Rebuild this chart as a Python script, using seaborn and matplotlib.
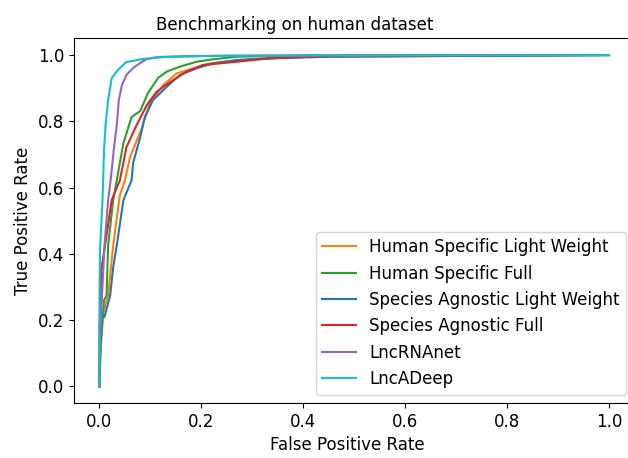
import pandas as pd
import seaborn as sns
from matplotlib import pyplot as plt

# ROC points (fpr, tpr)
hs_light_fpr = [0.0, 0.001, 0.007, 0.017, 0.027, 0.040, 0.050, 0.060, 0.083, 0.099, 0.125,
                0.152, 0.184, 0.217, 0.276, 0.374, 1.0]
hs_light_tpr = [0.0, 0.079, 0.220, 0.275, 0.426, 0.577, 0.622, 0.692, 0.779, 0.855, 0.909,
                0.945, 0.960, 0.975, 0.985, 0.994, 1.0]

hs_full_fpr = [0.0, 0.003, 0.009, 0.014, 0.017, 0.027, 0.034, 0.047, 0.063, 0.080, 0.095,
               0.115, 0.132, 0.158, 0.191, 0.223, 0.270, 0.394, 1.0]
hs_full_tpr = [0.0, 0.139, 0.260, 0.275, 0.426, 0.562, 0.622, 0.734, 0.813, 0.831, 0.885,
               0.931, 0.950, 0.965, 0.980, 0.987, 0.995, 0.998, 1.0]

sa_light_fpr = [0.0, 0.002, 0.010, 0.021, 0.027, 0.034, 0.047, 0.063, 0.066, 0.080, 0.089,
                0.105, 0.132, 0.158, 0.191, 0.223, 0.270, 0.335, 0.453, 1.0]
sa_light_tpr = [0.0, 0.210, 0.210, 0.275, 0.360, 0.426, 0.562, 0.622, 0.674, 0.752, 0.813,
                0.864, 0.904, 0.940, 0.960, 0.975, 0.985, 0.990, 0.995, 1.0]

sa_full_fpr = [0.0, 0.0, 0.002, 0.004, 0.011, 0.024, 0.040, 0.053, 0.073, 0.093, 0.112,
               0.139, 0.171, 0.203, 0.237, 0.270, 0.335, 0.453, 1.0]
sa_full_tpr = [0.0, 0.170, 0.260, 0.356, 0.426, 0.562, 0.622, 0.722, 0.789, 0.849, 0.889,
               0.919, 0.950, 0.970, 0.975, 0.980, 0.990, 0.997, 1.0]

lncrnanet_fpr = [0.0, 0.001, 0.005, 0.010, 0.017, 0.023, 0.028, 0.034, 0.038, 0.044, 0.053,
                 0.066, 0.080, 0.093, 0.113, 0.178, 0.390, 1.0]
lncrnanet_tpr = [0.0, 0.139, 0.275, 0.426, 0.562, 0.637, 0.713, 0.789, 0.864, 0.909, 0.940,
                 0.961, 0.976, 0.988, 0.994, 0.997, 0.999, 1.0]

lncadeep_fpr = [0.0, 0.0, 0.001, 0.006, 0.009, 0.012, 0.017, 0.024, 0.036, 0.053, 0.085,
                0.129, 0.240, 1.0]
lncadeep_tpr = [0.0, 0.260, 0.410, 0.562, 0.713, 0.789, 0.864, 0.930, 0.955, 0.979, 0.988,
                0.994, 0.998, 1.0]

names = ["Human Specific Light Weight", "Human Specific Full",
         "Species Agnostic Light Weight", "Species Agnostic Full",
         "LncRNAnet", "LncADeep"]
colors = ["#ff7f0e", "#2ca02c", "#1f77b4", "#d62728", "#9467bd", "#17becf"]

curves = [(hs_light_fpr, hs_light_tpr), (hs_full_fpr, hs_full_tpr),
          (sa_light_fpr, sa_light_tpr), (sa_full_fpr, sa_full_tpr),
          (lncrnanet_fpr, lncrnanet_tpr), (lncadeep_fpr, lncadeep_tpr)]

frames = []
for name, (fpr, tpr) in zip(names, curves):
    frames.append(pd.DataFrame({"fpr": fpr, "tpr": tpr, "model": name}))
df = pd.concat(frames, ignore_index=True)

plt.rcParams["font.size"] = 12
plt.rcParams["font.family"] = ["DejaVu Sans"]

fig = plt.figure(figsize=(6.28, 4.58), dpi=100)
# the reference is cropped on the right, so the axes run past the figure edge
ax = fig.add_axes([0.1178, 0.1201, 0.8925, 0.7959])

sns.lineplot(data=df, x="fpr", y="tpr", hue="model", hue_order=names,
             palette=colors, sort=False, estimator=None, linewidth=1.5, ax=ax)

ax.set_xlim(-0.05, 1.05)
ax.set_ylim(-0.05, 1.05)
ax.set_xticks([0.0, 0.2, 0.4, 0.6, 0.8, 1.0])
ax.set_yticks([0.0, 0.2, 0.4, 0.6, 0.8, 1.0])
ax.spines["right"].set_visible(False)
ax.set_xlabel("False Positive Rate", x=0.487)
ax.set_ylabel("True Positive Rate")
ax.set_title("Benchmarking on human dataset", fontsize=12, x=0.394)
ax.legend(loc="lower right", fontsize=12)

fig.savefig("out.png", dpi=100)
plt.close()
